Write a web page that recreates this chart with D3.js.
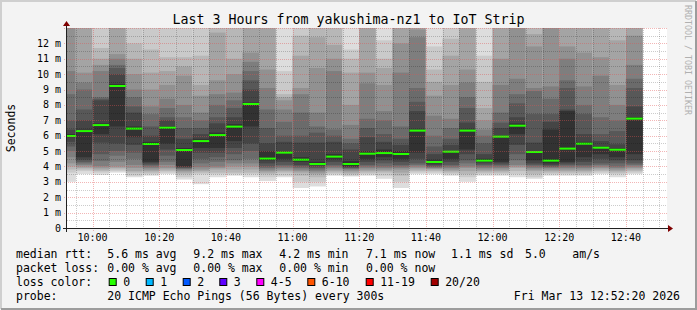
<!DOCTYPE html>
<meta charset="utf-8">
<script src="https://d3js.org/d3.v7.min.js"></script>
<style>
  body { margin: 0; background: #f3f3f3; }
  text { font-family: "DejaVu Sans Mono", monospace; white-space: pre; }
</style>
<div id="chart"></div>
<script>
// step end times (5 minute steps), the first one is cut by the left edge
var stepEnds = ["09:55", "10:00", "10:05", "10:10", "10:15", "10:20", "10:25", "10:30", "10:35",
    "10:40", "10:45", "10:50", "10:55", "11:00", "11:05", "11:10", "11:15", "11:20", "11:25",
    "11:30", "11:35", "11:40", "11:45", "11:50", "11:55", "12:00", "12:05", "12:10", "12:15",
    "12:20", "12:25", "12:30", "12:35", "12:40", "12:45"];

// median rtt per step (ms)
var medians = [5.98, 6.30, 6.69, 9.23, 6.46, 5.46, 6.52, 5.07, 5.65, 6.04, 6.59, 8.06, 4.51, 4.90,
    4.44, 4.16, 4.64, 4.16, 4.83, 4.87, 4.81, 6.33, 4.29, 4.96, 6.33, 4.38, 5.94, 6.65, 4.94, 4.38,
    5.16, 5.48, 5.22, 5.09, 7.11];

// packet loss per step (pings lost out of 20)
var losses = [0, 0, 0, 0, 0, 0, 0, 0, 0, 0, 0, 0, 0, 0, 0, 0, 0, 0, 0, 0, 0, 0, 0, 0, 0, 0, 0, 0, 0, 0, 0, 0, 0, 0, 0];

// the 20 sorted ping times of every step (ms), used for the smoke
var pings = [
    [3.0, 3.6, 3.8, 4.0, 4.2, 4.6, 5.0, 5.3, 5.6, 5.9, 6.1, 6.4, 7.0, 8.7, 10.2, 14, 14, 14, 14, 14],
    [3.5, 3.7, 3.8, 3.9, 4.0, 4.1, 4.2, 4.3, 4.45, 4.6, 6.4, 7.0, 7.7, 9.0, 9.45, 10.1, 14, 14, 14, 14],
    [3.45, 3.6, 3.7, 3.8, 3.92, 4.03, 4.35, 4.8, 5.55, 6.1, 6.8, 8.3, 8.4, 8.5, 10.2, 10.6, 11.0, 11.7, 14, 14],
    [3.6, 3.7, 3.8, 3.9, 4.0, 4.3, 4.7, 5.0, 5.5, 6.6, 9.35, 10.0, 10.4, 10.6, 11.0, 11.3, 14, 14, 14, 14],
    [3.3, 3.4, 3.6, 3.7, 3.9, 4.1, 4.5, 4.9, 5.4, 5.9, 6.6, 7.5, 7.9, 8.5, 9.0, 10.0, 11.0, 12.0, 14, 14],
    [3.4, 3.5, 3.6, 3.7, 3.8, 3.9, 4.0, 4.1, 4.2, 4.3, 5.6, 6.0, 6.6, 7.4, 7.9, 9.0, 10.1, 11.6, 14, 14],
    [3.5, 3.6, 3.7, 3.8, 3.9, 4.1, 4.3, 4.7, 5.1, 5.5, 6.6, 7.0, 7.2, 7.8, 8.4, 9.3, 10.2, 11.1, 14, 14],
    [3.15, 3.3, 3.5, 3.6, 3.7, 3.8, 3.85, 3.9, 3.95, 4.0, 5.2, 5.8, 6.5, 7.2, 8.0, 9.9, 10.5, 11.1, 14, 14],
    [2.85, 3.5, 3.6, 3.7, 3.8, 3.95, 4.2, 4.5, 4.9, 5.2, 5.8, 6.1, 6.5, 7.0, 7.5, 8.6, 9.3, 11.2, 14, 14],
    [3.3, 3.5, 3.6, 3.8, 3.9, 4.0, 4.3, 4.6, 4.9, 5.2, 6.2, 6.8, 7.2, 8.0, 8.7, 9.6, 12.7, 14, 14, 14],
    [3.4, 3.5, 3.6, 3.8, 4.0, 4.2, 4.4, 4.8, 5.2, 5.65, 6.75, 7.2, 7.8, 8.3, 8.8, 10.0, 11.0, 14, 14, 14],
    [3.3, 3.5, 3.6, 3.8, 4.0, 4.2, 4.5, 5.0, 5.5, 6.6, 8.15, 9.0, 9.6, 10.2, 10.8, 11.4, 14, 14, 14, 14],
    [3.05, 3.3, 3.5, 3.6, 3.7, 3.8, 3.9, 4.0, 4.2, 4.4, 5.0, 5.5, 6.5, 7.7, 9.1, 10.3, 14, 14, 14, 14],
    [3.3, 3.4, 3.6, 3.7, 3.8, 3.9, 4.0, 4.1, 4.3, 4.5, 5.0, 5.6, 6.0, 6.9, 7.7, 8.3, 8.5, 8.7, 10.2, 14],
    [2.6, 3.0, 3.4, 3.6, 3.7, 3.8, 3.9, 4.0, 4.1, 4.3, 4.6, 5.55, 6.0, 7.5, 8.7, 9.1, 11.2, 12.5, 14, 14],
    [2.7, 3.0, 3.3, 3.5, 3.6, 3.7, 3.8, 3.9, 4.0, 4.1, 4.3, 5.55, 6.2, 6.6, 7.5, 10.4, 12.4, 14, 14, 14],
    [3.4, 3.5, 3.6, 3.7, 3.8, 3.9, 4.0, 4.1, 4.3, 4.5, 4.8, 5.6, 6.0, 6.4, 10.2, 11.0, 11.9, 14, 14, 14],
    [3.35, 3.4, 3.5, 3.6, 3.7, 3.8, 3.85, 3.9, 3.95, 4.0, 4.35, 5.1, 5.5, 5.8, 6.7, 8.0, 10.1, 11.0, 11.6, 14],
    [3.4, 3.5, 3.6, 3.7, 3.8, 3.9, 4.0, 4.1, 4.3, 4.5, 5.0, 5.9, 6.5, 7.1, 9.4, 10.1, 14, 14, 14, 14],
    [3.2, 3.4, 3.6, 3.7, 3.8, 3.9, 4.0, 4.2, 4.4, 4.6, 5.1, 5.6, 6.1, 7.0, 7.6, 9.3, 10.4, 11.0, 12.2, 14],
    [2.6, 3.0, 3.4, 3.6, 3.8, 3.9, 4.0, 4.1, 4.3, 4.5, 5.0, 5.4, 5.8, 6.6, 10.1, 12.0, 14, 14, 14, 14],
    [3.5, 3.6, 3.7, 3.8, 3.9, 4.0, 4.1, 4.2, 4.5, 4.9, 6.4, 7.6, 8.2, 9.1, 12.4, 12.9, 14, 14, 14, 14],
    [3.5, 3.6, 3.7, 3.8, 3.85, 3.9, 3.95, 4.0, 4.1, 4.2, 4.4, 4.8, 5.3, 6.0, 7.3, 8.6, 9.5, 10.3, 11.8, 14],
    [3.4, 3.5, 3.6, 3.7, 3.8, 3.9, 4.0, 4.1, 4.3, 4.5, 5.0, 5.4, 5.8, 6.5, 7.1, 9.3, 11.2, 12.3, 14, 14],
    [3.0, 3.3, 3.5, 3.7, 3.9, 4.0, 4.2, 4.4, 4.8, 5.1, 6.4, 6.85, 7.8, 8.5, 9.45, 10.3, 14, 14, 14, 14],
    [3.4, 3.5, 3.6, 3.7, 3.8, 3.9, 4.0, 4.1, 4.2, 4.3, 4.5, 4.8, 5.5, 6.0, 6.4, 7.0, 7.8, 9.5, 11.2, 14],
    [3.4, 3.5, 3.6, 3.7, 3.8, 3.9, 4.0, 4.1, 4.2, 4.3, 6.0, 6.5, 6.85, 7.5, 9.3, 11.0, 14, 14, 14, 14],
    [3.3, 3.5, 3.7, 3.9, 4.0, 4.1, 4.4, 4.8, 5.4, 6.1, 6.8, 7.2, 8.1, 8.7, 9.7, 14, 14, 14, 14, 14],
    [3.2, 3.3, 3.5, 3.7, 3.8, 3.9, 4.0, 4.1, 4.2, 4.4, 5.0, 5.55, 7.4, 8.9, 9.1, 11.8, 12.6, 14, 14, 14],
    [3.4, 3.5, 3.6, 3.7, 3.8, 3.9, 3.95, 4.0, 4.1, 4.2, 6.4, 6.9, 7.4, 8.4, 9.2, 14, 14, 14, 14, 14],
    [3.4, 3.5, 3.6, 3.7, 3.8, 3.9, 4.0, 4.1, 4.2, 4.3, 7.6, 7.7, 9.1, 9.6, 11.0, 11.8, 14, 14, 14, 14],
    [3.4, 3.5, 3.6, 3.7, 3.8, 3.9, 4.0, 4.1, 4.3, 4.6, 5.6, 6.1, 7.4, 8.0, 9.2, 11.4, 14, 14, 14, 14],
    [3.5, 3.6, 3.7, 3.8, 3.9, 4.0, 4.1, 4.2, 4.5, 4.8, 5.3, 5.65, 6.1, 7.2, 9.9, 11.1, 14, 14, 14, 14],
    [3.3, 3.5, 3.6, 3.7, 3.8, 3.9, 4.0, 4.2, 4.4, 4.6, 5.2, 5.44, 6.3, 7.0, 8.0, 9.3, 12.2, 14, 14, 14],
    [3.5, 3.6, 3.7, 3.8, 3.9, 4.0, 4.1, 4.2, 4.4, 4.8, 7.2, 7.9, 9.1, 9.7, 10.6, 12.5, 14, 14, 14, 14]
];

// legend values
var rttLabels = ["5.6 ms avg", "9.2 ms max", "4.2 ms min", "7.1 ms now", "1.1 ms sd", "5.0", "am/s"];
var lossLabels = ["0.00 % avg", "0.00 % max", "0.00 % min", "0.00 % now"];
var lossNames = ["0", "1", "2", "3", "4-5", "6-10", "11-19", "20/20"];
var lossLimits = [0, 1, 2, 3, 5, 10, 19, 20];
var lossColors = ["#26ff00", "#00b8ff", "#0059ff", "#5e00ff", "#ff00fe", "#ff5500", "#ff0000", "#a10000"];

var W = 697, H = 310;
var plot = { left: 67, right: 667, top: 28, bottom: 228 };

var day = function(hm, s) {
    var p = hm.split(":");
    return new Date(2026, 2, 13, +p[0], +p[1], s || 0);
};
var tStart = day("09:52", 20), tEnd = day("12:52", 20);

var x = d3.scaleTime().domain([tStart, tEnd]).range([plot.left, plot.right]);
var y = d3.scaleLinear().domain([0, 13]).range([plot.bottom, plot.top]);

var svg = d3.select("#chart").append("svg")
    .attr("width", W)
    .attr("height", H);

// background and 3d frame
svg.append("rect").attr("width", W).attr("height", H).attr("fill", "#f3f3f3");
svg.append("path").attr("d", "M1,309 V1 H696").attr("fill", "none").attr("stroke", "#cfcfcf").attr("stroke-width", 2);
svg.append("path").attr("d", "M1,309 H696 V1").attr("fill", "none").attr("stroke", "#9c9c9c").attr("stroke-width", 2);

// canvas
svg.append("rect")
    .attr("x", plot.left).attr("y", plot.top)
    .attr("width", plot.right - plot.left).attr("height", plot.bottom - plot.top)
    .attr("fill", "#fff");

svg.append("clipPath").attr("id", "clip")
    .append("rect")
    .attr("x", plot.left).attr("y", plot.top)
    .attr("width", plot.right - plot.left).attr("height", plot.bottom - plot.top);

var data = stepEnds.map(function(s, i) {
    var end = day(s);
    var start = new Date(Math.max(+tStart, +end - 300000));
    return { start: start, end: end, pings: pings[i], median: medians[i], loss: losses[i] };
});

// smoke: band i goes from ping i to ping 21-i, darker towards the middle
var smoke = svg.append("g").attr("clip-path", "url(#clip)");
data.forEach(function(d) {
    for (var i = 0; i < 10; i++) {
        var lo = d.pings[i], hi = d.pings[19 - i];
        var g = Math.floor(190 / 10 * (10 - (i + 1))) + 50;
        smoke.append("rect")
            .attr("x", x(d.start))
            .attr("width", x(d.end) - x(d.start))
            .attr("y", y(hi))
            .attr("height", y(lo) - y(hi))
            .attr("fill", d3.rgb(g, g, g));
    }
});

function lossColor(l) {
    for (var i = 0; i < lossLimits.length; i++) if (l <= lossLimits[i]) return lossColors[i];
    return lossColors[lossColors.length - 1];
}

// median bars
svg.append("g").selectAll("rect")
    .data(data)
    .join("rect")
    .attr("x", function(d) { return x(d.start); })
    .attr("width", function(d) { return x(d.end) - x(d.start); })
    .attr("y", function(d) { return y(d.median) - 1; })
    .attr("height", 2)
    .attr("fill", function(d) { return lossColor(d.loss); });

// grid on top
var grid = svg.append("g").attr("shape-rendering", "crispEdges");
var minutes5 = d3.timeMinute.every(5).range(tStart, tEnd);
var isMajor = function(t) { return t.getMinutes() % 20 === 0; };

grid.selectAll(".vminor")
    .data(minutes5.filter(function(t) { return !isMajor(t); }))
    .join("line")
    .attr("x1", function(t) { return Math.round(x(t)) + 0.5; })
    .attr("x2", function(t) { return Math.round(x(t)) + 0.5; })
    .attr("y1", plot.top).attr("y2", plot.bottom)
    .attr("stroke", "rgba(0,0,0,0.2)").attr("stroke-dasharray", "1,1");

var yMinor = y.ticks(26).filter(function(v) { return v % 1 !== 0; });
grid.selectAll(".hminor")
    .data(yMinor)
    .join("line")
    .attr("x1", plot.left).attr("x2", plot.right)
    .attr("y1", function(v) { return Math.round(y(v)) + 0.5; })
    .attr("y2", function(v) { return Math.round(y(v)) + 0.5; })
    .attr("stroke", "rgba(0,0,0,0.2)").attr("stroke-dasharray", "1,1");

var majorTimes = minutes5.filter(isMajor);
grid.selectAll(".vmajor")
    .data(majorTimes)
    .join("line")
    .attr("x1", function(t) { return Math.round(x(t)) + 0.5; })
    .attr("x2", function(t) { return Math.round(x(t)) + 0.5; })
    .attr("y1", plot.top).attr("y2", plot.bottom + 3)
    .attr("stroke", "rgba(224,80,80,0.42)").attr("stroke-dasharray", "1,1");

var yMajor = y.ticks(13).filter(function(v) { return v > 0; });
grid.selectAll(".hmajor")
    .data(yMajor)
    .join("line")
    .attr("x1", plot.left - 3).attr("x2", plot.right)
    .attr("y1", function(v) { return Math.round(y(v)) + 0.5; })
    .attr("y2", function(v) { return Math.round(y(v)) + 0.5; })
    .attr("stroke", "rgba(224,80,80,0.42)").attr("stroke-dasharray", "1,1");

// axes lines with arrows
var axisCol = "#202020", arrowCol = "#7f0000";
svg.append("line").attr("x1", plot.left - 4).attr("x2", plot.right + 2)
    .attr("y1", plot.bottom + 0.5).attr("y2", plot.bottom + 0.5)
    .attr("stroke", axisCol);
svg.append("line").attr("x1", plot.left - 0.5).attr("x2", plot.left - 0.5)
    .attr("y1", plot.bottom + 4).attr("y2", plot.top - 2)
    .attr("stroke", axisCol);
svg.append("path")
    .attr("d", "M" + (plot.right + 1) + "," + (plot.bottom - 3) + " L" + (plot.right + 6) + "," +
        (plot.bottom + 0.5) + " L" + (plot.right + 1) + "," + (plot.bottom + 4) + "Z")
    .attr("fill", arrowCol);
svg.append("path")
    .attr("d", "M" + (plot.left - 4) + "," + (plot.top - 2) + " L" + (plot.left - 0.5) + "," +
        (plot.top - 7) + " L" + (plot.left + 3) + "," + (plot.top - 2) + "Z")
    .attr("fill", arrowCol);

// y tick labels
svg.append("g").selectAll("text")
    .data(y.ticks(13).filter(function(v) { return v <= 12; }))
    .join("text")
    .attr("x", 61)
    .attr("y", function(v) { return y(v) + 3.5; })
    .attr("text-anchor", "end")
    .attr("font-size", "10px")
    .attr("fill", "#000")
    .text(function(v) { return v === 0 ? "0" : v + " m"; });

// x tick labels
var fmt = d3.timeFormat("%H:%M");
svg.append("g").selectAll("text")
    .data(majorTimes)
    .join("text")
    .attr("x", function(t) { return x(t); })
    .attr("y", 241)
    .attr("text-anchor", "middle")
    .attr("font-size", "10px")
    .attr("fill", "#000")
    .text(fmt);

// title and axis label
svg.append("text")
    .attr("x", 348.5).attr("y", 24)
    .attr("text-anchor", "middle")
    .attr("font-size", "13.3px")
    .text("Last 3 Hours from yakushima-nz1 to IoT Strip");

svg.append("text")
    .attr("transform", "translate(15,128) rotate(-90)")
    .attr("text-anchor", "middle")
    .attr("font-size", "11.5px")
    .text("Seconds");

svg.append("text")
    .attr("transform", "translate(685,5) rotate(90)")
    .attr("font-size", "8.3px")
    .attr("fill", "#b0b0b0")
    .text("RRDTOOL / TOBI OETIKER");

// legend
var legend = svg.append("g").attr("font-size", "11.5px").attr("fill", "#000");
var rttX = [107.3, 193.3, 279.3, 366, 451, 525, 572.3];
var lossX = [107.3, 193.3, 279.3, 366];

legend.append("text").attr("x", 16).attr("y", 258).text("median rtt:");
rttLabels.forEach(function(t, i) {
    legend.append("text").attr("x", rttX[i]).attr("y", 258).text(t);
});
legend.append("text").attr("x", 16).attr("y", 272).text("packet loss:");
lossLabels.forEach(function(t, i) {
    legend.append("text").attr("x", lossX[i]).attr("y", 272).text(t);
});
legend.append("text").attr("x", 16).attr("y", 286).text("loss color:");
var boxX = [108.7, 145.7, 182.7, 219.3, 256.3, 307.3, 365.7, 430.7];
lossNames.forEach(function(n, i) {
    legend.append("rect")
        .attr("x", boxX[i] + 0.5).attr("y", 278.5)
        .attr("width", 7).attr("height", 7)
        .attr("fill", lossColors[i]).attr("stroke", "#000");
    legend.append("text").attr("x", boxX[i] + 14.5).attr("y", 286).text(n);
});
legend.append("text").attr("x", 16).attr("y", 300).text("probe:");
legend.append("text").attr("x", 107.3).attr("y", 300).text("20 ICMP Echo Pings (56 Bytes) every 300s");
legend.append("text").attr("x", 680).attr("y", 300).attr("text-anchor", "end").text("Fri Mar 13 12:52:20 2026");
</script>
